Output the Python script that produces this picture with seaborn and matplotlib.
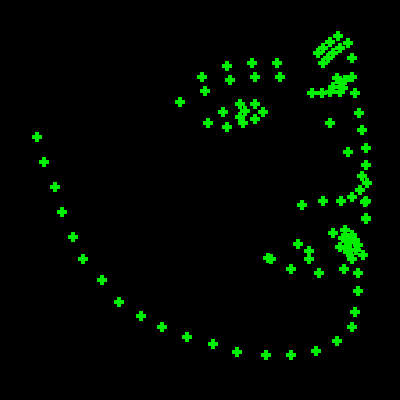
import matplotlib
matplotlib.use("Agg")
import matplotlib.pyplot as plt
import seaborn as sns
import pandas as pd

# landmark positions (pixels, y from top)
jaw_x = [37, 44, 55, 62, 73, 83, 102, 119, 141, 162, 187, 213, 237, 266, 291, 316, 337, 352, 355, 358]
jaw_y = [137, 162, 187, 212, 237, 259, 280, 302, 316, 327, 337, 344, 352, 355, 355, 351, 341, 327, 312, 291]

right_x = [358, 363, 366, 366, 362, 366, 366, 367, 360, 352, 341, 323, 302, 366, 365, 359, 362]
right_y = [273, 255, 219, 201, 176, 165, 148, 183, 190, 197, 201, 201, 205, 218, 202, 113, 130]

mouth_x = [352, 344, 319, 291, 271, 268, 298, 309, 309, 333, 345, 350, 343, 355, 347, 356, 340, 352, 348, 358, 346]
mouth_y = [259, 269, 273, 269, 259, 258, 244, 251, 259, 233, 230, 242, 238, 240, 248, 250, 247, 235, 252, 245, 240]

top_x = [338, 348, 330, 323, 318, 340, 333, 328, 323, 352, 340, 352, 333, 330, 312, 322, 340, 355, 330, 348, 345, 337, 343]
top_y = [36, 43, 42, 48, 53, 48, 53, 58, 63, 58, 82, 77, 87, 92, 93, 93, 92, 93, 123, 152, 80, 78, 88]

eye_x = [180, 202, 205, 227, 230, 252, 255, 277, 280, 223, 208, 227, 240, 240, 243, 255, 263, 255, 245]
eye_y = [102, 77, 91, 66, 80, 63, 77, 63, 77, 112, 123, 127, 104, 117, 123, 104, 112, 119, 111]

df = pd.DataFrame({
    "x": jaw_x + right_x + mouth_x + top_x + eye_x,
    "y": jaw_y + right_y + mouth_y + top_y + eye_y,
})

fig, ax = plt.subplots(figsize=(4, 4), dpi=100)
fig.patch.set_facecolor("black")
ax.set_facecolor("black")
fig.subplots_adjust(left=0, right=1, bottom=0, top=1)

sns.scatterplot(data=df, x="x", y="y", marker="P", s=60, color="#00ee00",
                edgecolor="none", ax=ax)

ax.set_xlim(0, 400)
ax.set_ylim(400, 0)
ax.axis("off")

fig.savefig("out.png", facecolor="black")
